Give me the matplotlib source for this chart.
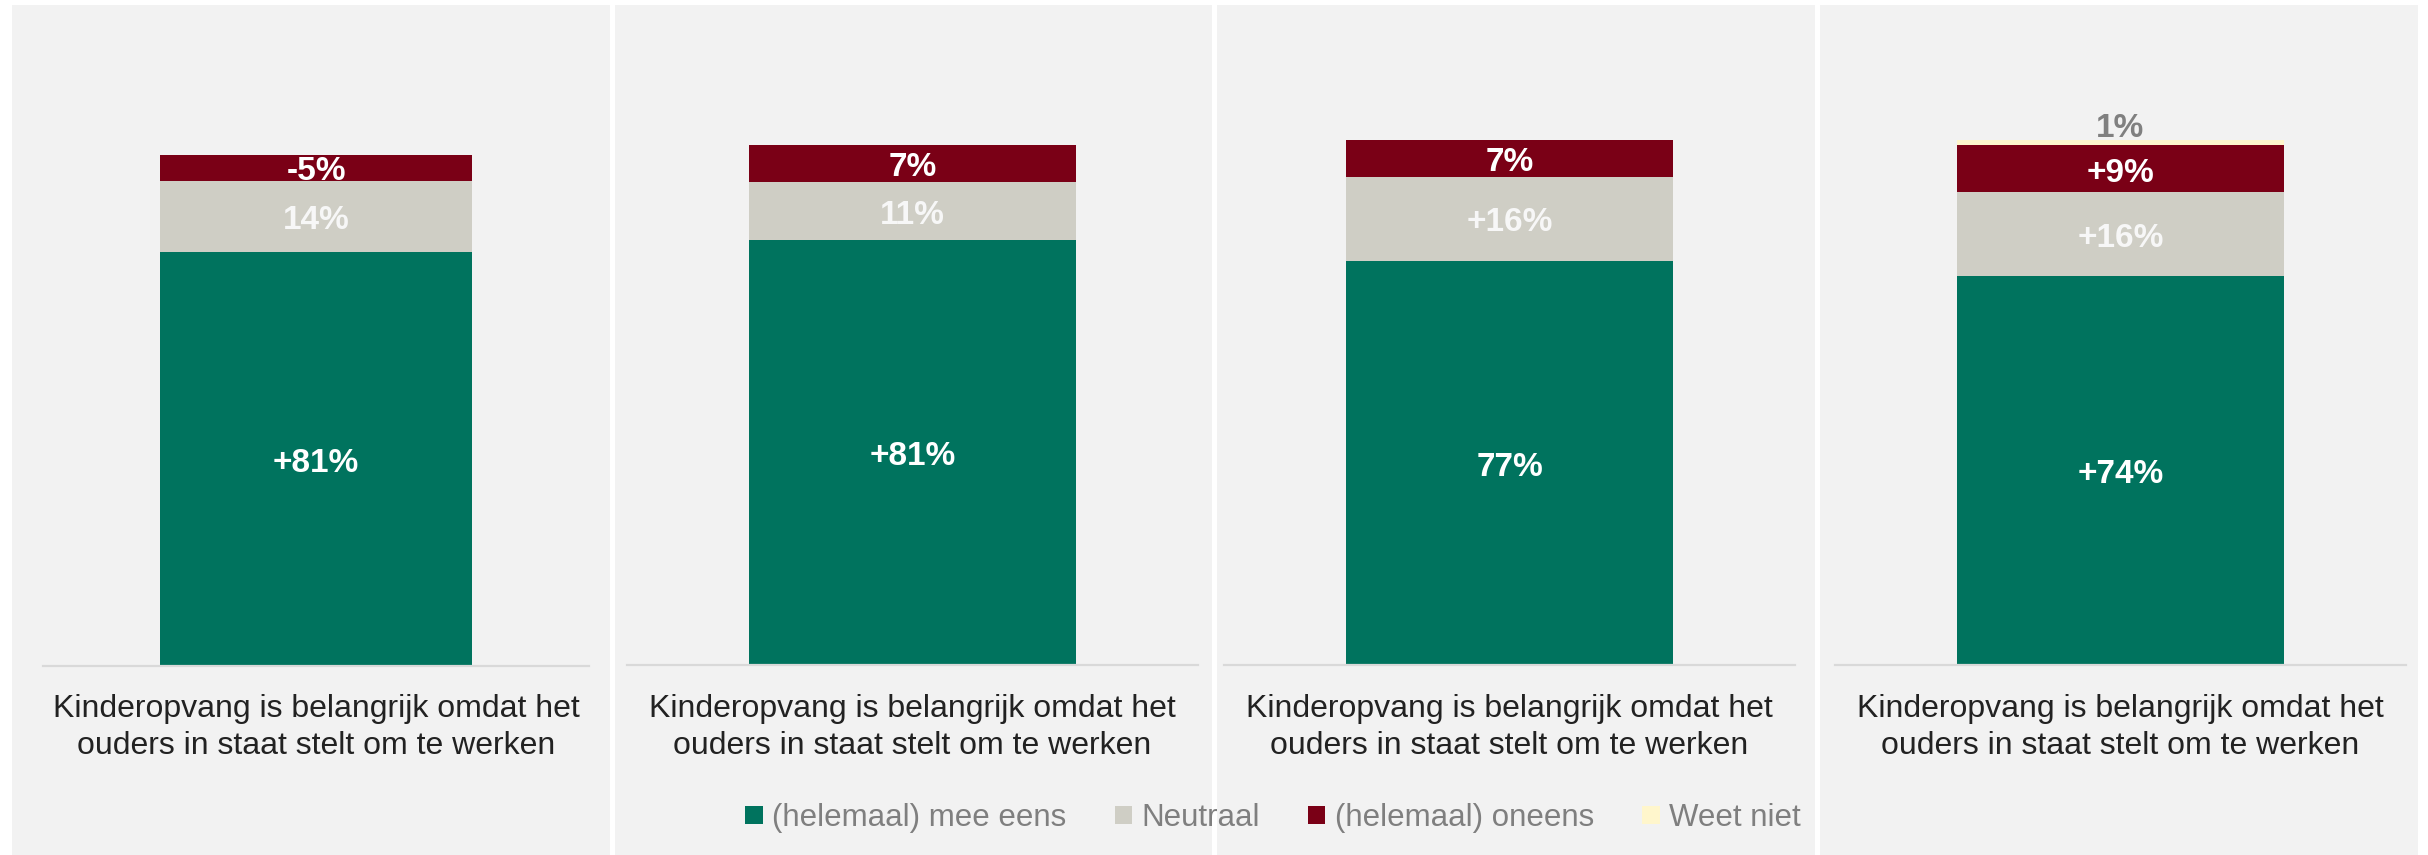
import matplotlib
matplotlib.use("Agg")
import matplotlib.pyplot as plt
from matplotlib.patches import Rectangle, Patch

plt.rcParams["font.family"] = ["Liberation Sans", "DejaVu Sans"]

# --- data -------------------------------------------------------------
series_names = ["(helemaal) mee eens", "Neutraal", "(helemaal) oneens", "Weet niet"]
category_label = "Kinderopvang is belangrijk omdat het\nouders in staat stelt om te werken"

eens_values = [81, 81, 77, 74]
neutraal_values = [14, 11, 16, 16]
oneens_values = [5, 7, 7, 9]
weetniet_values = [0, 0, 0, 1]

eens_labels = ["+81%", "+81%", "77%", "+74%"]
neutraal_labels = ["14%", "11%", "+16%", "+16%"]
oneens_labels = ["-5%", "7%", "7%", "+9%"]
weetniet_labels = ["", "", "", "1%"]

# --- style ------------------------------------------------------------
colors = ["#00735E", "#CFCEC5", "#7A0016", "#FFF6CC"]
label_colors = ["white", "#F7F7F7", "white", "#808080"]
panel_bg = "#F2F2F2"
axis_line = "#D9D9D9"

W, H = 2428, 855
fig = plt.figure(figsize=(W / 100, H / 100), dpi=100, facecolor="white")


def fx(px):
    return px / W


def fy(py):
    # py measured from the top edge
    return 1 - py / H


# panel backgrounds (x-range in pixels)
panels = [(12, 610), (615, 1212), (1217, 1815), (1820, 2418)]
for x0, x1 in panels:
    fig.patches.append(Rectangle((fx(x0), 0), fx(x1) - fx(x0), fy(5),
                                 transform=fig.transFigure, facecolor=panel_bg,
                                 edgecolor="none", zorder=-5))

# plot areas: (left, right, top, baseline) in pixels from the top-left
areas = [(43, 589, 155, 666), (627, 1198, 140, 665),
         (1224, 1795, 140, 665), (1835, 2406, 140, 665)]

for i, (l, r, t, b) in enumerate(areas):
    ax = fig.add_axes([fx(l), fy(b), fx(r) - fx(l), fy(t) - fy(b)])
    ax.set_zorder(1)
    ax.set_facecolor("none")
    ax.set_xlim(-0.5, 0.5)
    ax.set_ylim(0, 100)
    for s in ["top", "left", "right"]:
        ax.spines[s].set_visible(False)
    ax.spines["bottom"].set_color(axis_line)
    ax.spines["bottom"].set_linewidth(1.6)
    ax.set_xticks([])
    ax.set_yticks([])

    vals = [eens_values[i], neutraal_values[i], oneens_values[i], weetniet_values[i]]
    labs = [eens_labels[i], neutraal_labels[i], oneens_labels[i], weetniet_labels[i]]
    bottom = 0
    for j, (v, lab) in enumerate(zip(vals, labs)):
        if v > 0:
            ax.bar(0, v, width=0.573, bottom=bottom, color=colors[j],
                   edgecolor="none", zorder=2)
        if lab:
            if j == 3:
                ax.annotate(lab, (0, bottom + v), xytext=(0, -3),
                            textcoords="offset points", ha="center", va="bottom",
                            fontsize=24, fontweight="bold", color=label_colors[j],
                            annotation_clip=False)
            else:
                ax.annotate(lab, (0, bottom + v / 2), xytext=(0, -3),
                            textcoords="offset points", ha="center", va="center",
                            fontsize=24, fontweight="bold", color=label_colors[j],
                            zorder=3)
        bottom += v

    ax.text(0.5, -0.055, category_label, transform=ax.transAxes,
            ha="center", va="top", fontsize=23, color="#222222",
            linespacing=1.3)

handles = [Patch(facecolor=c, edgecolor="none") for c in colors]
fig.legend(handles, series_names, loc="center", ncol=4, frameon=False,
           bbox_to_anchor=(fx(1273), fy(818)), fontsize=22.5,
           labelcolor="#7F7F7F", handlelength=0.55, handleheight=0.55,
           handletextpad=0.3, columnspacing=1.55, borderaxespad=0)

fig.savefig("out.png", dpi=100, facecolor="white")
